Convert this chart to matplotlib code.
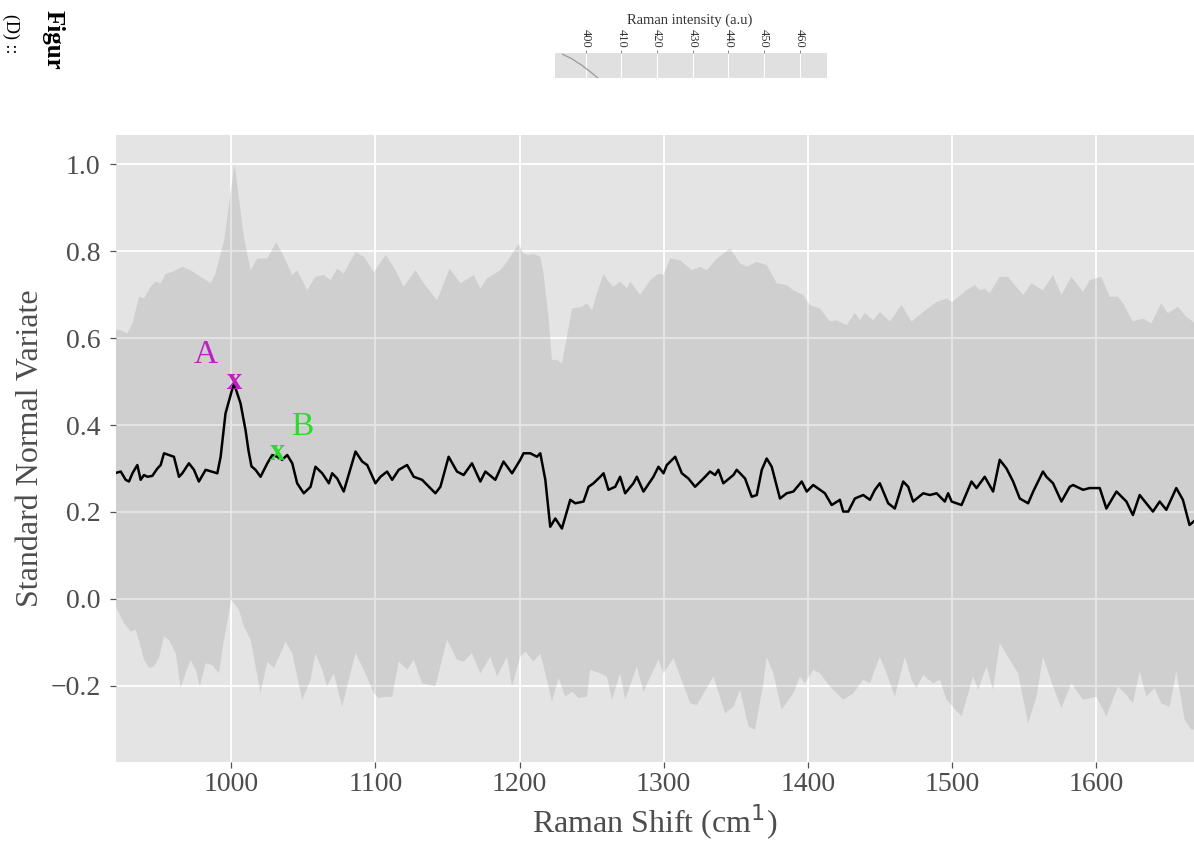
"""Raman spectrum: SNV mean with min/max ribbon, ggplot-like styling."""

import matplotlib as mpl
import matplotlib.pyplot as plt
import numpy as np

mpl.rcParams.update(
    {
        "font.family": ["Liberation Serif", "DejaVu Serif"],
        "axes.unicode_minus": True,
    }
)

PANEL_BG = "#E4E4E4"
RIBBON = "#7F7F7F"
TEXT_GREY = "#4D4D4D"
MAGENTA = "#C21EC2"
GREEN = "#2BDB2B"

# ---- upper edge of ribbon ----------------------------------------------
upper_x = [
    920, 923.3, 927.9, 931.4, 936, 939.4, 944, 947.5, 951, 954.5, 959, 966,
    971.8, 978.7, 985.7, 989, 995, 1002.3, 1008.7, 1013.4, 1018, 1025, 1031.2,
    1036.5, 1042.3, 1045.7, 1052.7, 1058.4, 1064.2, 1068.8, 1073.5, 1078,
    1086.2, 1092, 1098.9, 1107, 1112.7, 1119.6, 1127.7, 1133.5, 1142.8,
    1151.5, 1159, 1168.2, 1172.8, 1177.4, 1186.7, 1191.3, 1199.4, 1202.8,
    1206.3, 1209.7, 1214.4, 1216.7, 1220.1, 1222.5, 1226, 1229.4, 1232.9,
    1236.4, 1243.3, 1246.8, 1250.2, 1253.7, 1258.3, 1261.7, 1265.2, 1269.8,
    1274.5, 1276.8, 1283.7, 1290.6, 1296.4, 1299.9, 1304.5, 1311.4, 1319.5,
    1325.3, 1329.9, 1336.9, 1346.1, 1353, 1357.7, 1364.6, 1371.5, 1378.5,
    1385.4, 1390, 1396.9, 1401.5, 1408.5, 1415.4, 1420, 1427, 1432.7, 1436.2,
    1439.6, 1445.4, 1450.1, 1457, 1465.1, 1472, 1480.1, 1489.4, 1496.3,
    1500.2, 1510.2, 1515.9, 1519.4, 1522.8, 1526.3, 1533.2, 1539, 1542.5,
    1549.4, 1555.2, 1563.2, 1570.2, 1576, 1582.9, 1591, 1595.6, 1603.7,
    1609.5, 1615.2, 1618.7, 1625.6, 1632.6, 1638.4, 1645.3, 1649.9, 1656.8,
    1662.6, 1668,
]
upper_y = [
    0.62, 0.618, 0.611, 0.634, 0.695, 0.691, 0.718, 0.730, 0.726, 0.748,
    0.752, 0.764, 0.756, 0.741, 0.726, 0.748, 0.825, 1.0, 0.833, 0.756,
    0.783, 0.783, 0.821, 0.787, 0.745, 0.756, 0.710, 0.741, 0.745, 0.733,
    0.760, 0.748, 0.798, 0.787, 0.752, 0.791, 0.764, 0.718, 0.756, 0.726,
    0.687, 0.760, 0.726, 0.745, 0.714, 0.737, 0.756, 0.775, 0.817, 0.794,
    0.791, 0.794, 0.787, 0.748, 0.649, 0.550, 0.550, 0.542, 0.603, 0.668,
    0.672, 0.680, 0.664, 0.703, 0.748, 0.730, 0.718, 0.730, 0.714, 0.730,
    0.699, 0.733, 0.748, 0.745, 0.783, 0.779, 0.756, 0.764, 0.756, 0.783,
    0.806, 0.772, 0.764, 0.775, 0.768, 0.726, 0.722, 0.710, 0.699, 0.676,
    0.668, 0.638, 0.641, 0.630, 0.658, 0.641, 0.658, 0.641, 0.660, 0.638,
    0.676, 0.638, 0.660, 0.683, 0.691, 0.683, 0.710, 0.722, 0.710, 0.714,
    0.703, 0.741, 0.741, 0.726, 0.699, 0.726, 0.710, 0.745, 0.699, 0.741,
    0.706, 0.733, 0.741, 0.695, 0.695, 0.680, 0.638, 0.645, 0.634, 0.680,
    0.657, 0.672, 0.649, 0.636,
]

# ---- lower edge of ribbon ----------------------------------------------
lower_x = [
    920, 921, 925.6, 930.2, 933.7, 937.1, 939.4, 942.9, 946.3, 949.8, 953.3,
    956.7, 961.4, 964.9, 968.3, 971.8, 975.3, 978.2, 982.2, 986.8, 991.4,
    994.9, 1000, 1005.3, 1008.7, 1013.4, 1020.3, 1025, 1029.5, 1034.2,
    1037.6, 1042.3, 1049.2, 1055, 1058.4, 1063.1, 1066.5, 1071.1, 1076.9,
    1081.5, 1086.2, 1092, 1098.9, 1102.3, 1105.8, 1111.6, 1116.2, 1122,
    1126.6, 1132.4, 1141.6, 1149.7, 1156.6, 1161.2, 1167, 1172.8, 1179.7,
    1184.4, 1191.3, 1194.8, 1200.5, 1204, 1209.7, 1214.4, 1217.9, 1222.5,
    1227.1, 1231.7, 1236.4, 1240.9, 1246.8, 1249, 1256, 1260.6, 1264.1,
    1269.8, 1273.3, 1281.4, 1286, 1296.4, 1299.9, 1306.8, 1311.4, 1318.4,
    1323, 1329.9, 1334.5, 1342.6, 1348.4, 1353, 1358.8, 1363.4, 1369.2,
    1371.5, 1376.1, 1381.9, 1390, 1394.6, 1398.1, 1403.8, 1408.5, 1415.4,
    1424.6, 1431.6, 1438.5, 1443.1, 1450, 1454.7, 1460.4, 1467.4, 1472,
    1475.5, 1480.1, 1487, 1491.7, 1496.3, 1506.7, 1514.7, 1518.2, 1524,
    1528.6, 1533.2, 1540.2, 1545.9, 1552.9, 1558.7, 1563.2, 1570.2, 1576,
    1582.9, 1591, 1600.3, 1607.2, 1615.2, 1621.1, 1625.6, 1630.3, 1634.9,
    1640.7, 1645.3, 1651.1, 1655.7, 1661.5, 1666.1, 1668,
]
lower_y = [
    -0.02, -0.025, -0.056, -0.075, -0.071, -0.110, -0.140, -0.159, -0.155,
    -0.136, -0.086, -0.094, -0.125, -0.205, -0.171, -0.140, -0.163, -0.201,
    -0.148, -0.152, -0.171, -0.094, -0.002, -0.025, -0.063, -0.094, -0.217,
    -0.144, -0.159, -0.125, -0.098, -0.125, -0.232, -0.186, -0.125, -0.163,
    -0.201, -0.171, -0.248, -0.186, -0.125, -0.163, -0.217, -0.228, -0.225,
    -0.225, -0.144, -0.163, -0.140, -0.194, -0.201, -0.094, -0.140, -0.144,
    -0.125, -0.171, -0.133, -0.178, -0.133, -0.201, -0.133, -0.121, -0.144,
    -0.125, -0.171, -0.236, -0.182, -0.225, -0.213, -0.228, -0.225, -0.163,
    -0.171, -0.178, -0.232, -0.171, -0.232, -0.155, -0.213, -0.140, -0.171,
    -0.136, -0.178, -0.240, -0.244, -0.205, -0.178, -0.263, -0.248, -0.209,
    -0.293, -0.301, -0.194, -0.133, -0.171, -0.255, -0.217, -0.178, -0.194,
    -0.163, -0.171, -0.201, -0.232, -0.217, -0.186, -0.194, -0.133, -0.171,
    -0.225, -0.133, -0.186, -0.205, -0.175, -0.194, -0.186, -0.232, -0.270,
    -0.178, -0.209, -0.155, -0.209, -0.102, -0.140, -0.171, -0.286, -0.225,
    -0.133, -0.201, -0.251, -0.194, -0.232, -0.225, -0.270, -0.201, -0.221,
    -0.240, -0.167, -0.225, -0.205, -0.240, -0.248, -0.167, -0.278, -0.301,
    -0.30,
]

# ---- mean spectrum --------------------------------------------------------
mean_x = [
    920, 923.3, 926.7, 929, 931.4, 934.8, 937.1, 939.4, 941.8, 945.2, 948.7,
    951, 953.3, 956.7, 960.2, 963.7, 966, 970.6, 974.1, 977.5, 982.2, 990.3,
    992.6, 996, 1001.8, 1006.4, 1009.9, 1012, 1014, 1016.8, 1020.3, 1025,
    1028.4, 1031.9, 1035.3, 1038.8, 1042.3, 1045.7, 1050.3, 1055, 1058.4,
    1063.1, 1067.7, 1070, 1073.5, 1078, 1086.2, 1090.8, 1094.3, 1100, 1103.5,
    1108.1, 1111.6, 1116.2, 1122, 1126.6, 1132.4, 1141.6, 1145.1, 1150.8,
    1156.6, 1161.2, 1167, 1172.8, 1176.3, 1183.2, 1188.9, 1194.8, 1200.5,
    1202.8, 1207.5, 1212.1, 1214.4, 1217.9, 1221.3, 1224.8, 1229.4, 1235.2,
    1238.7, 1244.4, 1247.9, 1251.3, 1256, 1258.3, 1261.7, 1266.4, 1269.8,
    1273.3, 1279, 1281.4, 1286, 1292.9, 1296.4, 1299.9, 1302.2, 1308,
    1312.6, 1317.2, 1321.8, 1327.6, 1332.2, 1335.7, 1338, 1341.4, 1348.4,
    1350.7, 1356.5, 1361.1, 1364.6, 1368.1, 1371.5, 1375, 1380.7, 1385.4,
    1390, 1395.8, 1399.3, 1403.8, 1411.9, 1416.6, 1422.3, 1424.6, 1428.1,
    1432.7, 1438.5, 1443.1, 1446.6, 1450, 1455.8, 1460.4, 1466.2, 1469.7,
    1473.1, 1480.1, 1484.7, 1489.4, 1495.1, 1497.4, 1499.8, 1506.7, 1513.6,
    1517.1, 1522.8, 1528.6, 1533.2, 1537.9, 1542.5, 1547.1, 1552.9, 1556.4,
    1563.2, 1565.6, 1570.2, 1576, 1581.8, 1584.1, 1591, 1595.6, 1602.6,
    1607.2, 1614.2, 1621.1, 1625.6, 1630.3, 1634.9, 1639.5, 1644.2, 1648.8,
    1655.7, 1660.3, 1664.9, 1667.7,
]
mean_y = [
    0.29, 0.293, 0.274, 0.270, 0.289, 0.308, 0.274, 0.285, 0.281, 0.283,
    0.300, 0.308, 0.335, 0.331, 0.327, 0.281, 0.289, 0.312, 0.297, 0.270,
    0.297, 0.289, 0.327, 0.427, 0.496, 0.450, 0.388, 0.340, 0.305, 0.297,
    0.281, 0.312, 0.331, 0.327, 0.320, 0.331, 0.312, 0.266, 0.243, 0.258,
    0.304, 0.289, 0.266, 0.289, 0.277, 0.247, 0.339, 0.316, 0.308, 0.266,
    0.281, 0.293, 0.274, 0.297, 0.308, 0.281, 0.274, 0.243, 0.258, 0.327,
    0.293, 0.285, 0.312, 0.270, 0.293, 0.274, 0.316, 0.289, 0.320, 0.335,
    0.335, 0.327, 0.335, 0.274, 0.166, 0.185, 0.162, 0.228, 0.220, 0.224,
    0.258, 0.266, 0.281, 0.289, 0.251, 0.258, 0.281, 0.243, 0.266, 0.281,
    0.247, 0.281, 0.304, 0.289, 0.308, 0.327, 0.289, 0.277, 0.258, 0.277,
    0.293, 0.285, 0.297, 0.266, 0.285, 0.297, 0.277, 0.235, 0.239, 0.297,
    0.323, 0.304, 0.231, 0.243, 0.247, 0.270, 0.247, 0.262, 0.243, 0.216,
    0.228, 0.201, 0.201, 0.231, 0.239, 0.228, 0.251, 0.266, 0.220, 0.208,
    0.270, 0.258, 0.224, 0.243, 0.239, 0.243, 0.224, 0.243, 0.224, 0.216,
    0.270, 0.255, 0.281, 0.247, 0.320, 0.300, 0.270, 0.231, 0.220, 0.247,
    0.293, 0.281, 0.266, 0.224, 0.258, 0.262, 0.251, 0.255, 0.255, 0.208,
    0.247, 0.224, 0.193, 0.239, 0.220, 0.201, 0.224, 0.205, 0.255, 0.228,
    0.170, 0.178,
]

# peak annotations: label, label position, marker position, colour
peak_labels = ["A", "B"]
peak_label_xy = [(982.2, 0.561), (1049.2, 0.396)]
peak_mark_xy = [(1002.5, 0.500), (1031.8, 0.336)]
peak_colors = [MAGENTA, GREEN]

x_ticks = [1000, 1100, 1200, 1300, 1400, 1500, 1600]
y_ticks = [-0.2, 0.0, 0.2, 0.4, 0.6, 0.8, 1.0]

# cropped inset strip at the top of the page
inset_ticks = [400, 410, 420, 430, 440, 450, 460]
inset_curve_x = [393.5, 396.0, 398.8, 401.3, 403.4]
inset_curve_y = [0.95, 0.78, 0.52, 0.25, 0.0]

W, H = 1194, 843
fig = plt.figure(figsize=(W / 100, H / 100), dpi=100)

# ---- main panel -----------------------------------------------------------
ax = fig.add_axes([116 / W, 1 - 762 / H, (W - 116) / W, (762 - 135) / H])
ax.set_facecolor(PANEL_BG)
ax.fill(
    np.concatenate([upper_x, lower_x[::-1]]),
    np.concatenate([upper_y, lower_y[::-1]]),
    color=RIBBON, alpha=0.2, lw=0, zorder=2,
)
ax.plot(mean_x, mean_y, color="black", lw=1.8, zorder=3)

for lab, (lx, ly), (mx, my), col in zip(peak_labels, peak_label_xy,
                                         peak_mark_xy, peak_colors):
    ax.text(lx, ly, lab, color=col, fontsize=24, ha="center", va="center",
            zorder=4)
    ax.text(mx, my, "x", color=col, fontsize=22, fontweight="bold",
            ha="center", va="center", zorder=4)

ax.set_xlim(920, 1668)
ax.set_ylim(-0.375, 1.067)
ax.set_xticks(x_ticks)
ax.set_yticks(y_ticks)
ax.set_yticklabels([f"{v:.1f}".replace("-", "\u2212") for v in y_ticks])
ax.grid(True, color="white", lw=1.3, zorder=1)
ax.set_axisbelow(True)
for side in ax.spines.values():
    side.set_visible(False)
ax.tick_params(length=4, width=0.9, color="#555555", labelsize=20,
               labelcolor=TEXT_GREY)
ax.tick_params(axis="y", pad=7)
ax.tick_params(axis="x", pad=3)
ax.set_xlabel("Raman Shift (cm$^1$)", fontsize=23, color=TEXT_GREY,
              labelpad=4)
ax.set_ylabel("Standard Normal Variate", fontsize=23, color=TEXT_GREY,
              labelpad=4)

# ---- inset strip ----------------------------------------------------------
ins = fig.add_axes([555 / W, 1 - 78 / H, (827 - 555) / W, (78 - 53) / H])
ins.set_facecolor("#E0E0E0")
ins.plot(inset_curve_x, inset_curve_y, color="#999999", lw=0.9)
ins.set_xlim(391.4, 467.6)
ins.set_ylim(0, 1)
ins.set_yticks([])
ins.set_xticks(inset_ticks)
ins.xaxis.tick_top()
ins.tick_params(axis="x", length=2.5, width=0.6, color="#777777",
                labelsize=9, labelcolor="#333333", labelrotation=-90, pad=1)
ins.grid(True, axis="x", color="white", lw=0.8)
for side in ins.spines.values():
    side.set_visible(False)
fig.text(690 / W, 1 - 20 / H, "Raman intensity (a.u)", fontsize=10.5,
         color="#333333", ha="center", va="center")

# ---- cropped page text at top left ---------------------------------------
fig.text(53 / W, 1 - 10 / H, "Figur", fontsize=18, fontweight="bold",
         rotation=-90, ha="center", va="top", color="black")
fig.text(2 / W, 1 - 14 / H, "(D) ::", fontsize=13, rotation=-90,
         ha="left", va="top", color="black")

fig.savefig("out.png", dpi=100)
